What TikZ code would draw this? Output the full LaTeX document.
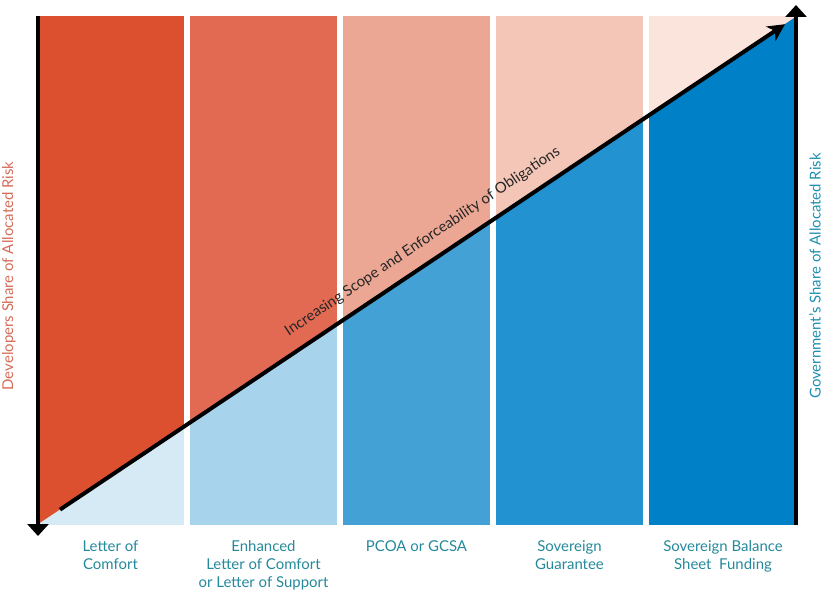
\documentclass[tikz,border=0pt]{standalone}
\usepackage{fontspec}
\setmainfont{Lato}
\usetikzlibrary{arrows.meta}
\definecolor{rA}{RGB}{221,80,47}
\definecolor{rB}{RGB}{227,106,82}
\definecolor{rC}{RGB}{236,167,148}
\definecolor{rD}{RGB}{244,198,183}
\definecolor{rE}{RGB}{250,228,220}
\definecolor{bA}{RGB}{214,234,246}
\definecolor{bB}{RGB}{168,211,236}
\definecolor{bC}{RGB}{68,161,214}
\definecolor{bD}{RGB}{34,146,208}
\definecolor{bE}{RGB}{0,128,198}
\definecolor{tealtxt}{RGB}{36,137,155}
\definecolor{bluetxt}{RGB}{30,143,176}
\definecolor{redtxt}{RGB}{212,108,88}
\tikzset{
  lbl/.style={inner sep=0pt, align=center, anchor=north, text=tealtxt,
    font=\fontsize{15}{18}\selectfont},
  sidelbl/.style={inner sep=0pt, rotate=90, font=\fontsize{15}{17}\selectfont},
  bigarrow/.style={line width=4bp, draw=black, -{Triangle[width=21bp,length=12bp]}},
  diagarrow/.style={line width=4bp, draw=black, -{Stealth[width=17bp,length=17bp,inset=5bp]}}
}
\begin{document}
\begin{tikzpicture}[x=1bp,y=-1bp]
\useasboundingbox (0,0) rectangle (826,592);
% red columns
\fill[rA] (37,16) rectangle (184,525);
\fill[rB] (190,16) rectangle (337,525);
\fill[rC] (343,16) rectangle (490,525);
\fill[rD] (496,16) rectangle (643,525);
\fill[rE] (649,16) rectangle (797,525);
% blue parts below the diagonal
\begin{scope}
\clip (37,525) -- (797,16) -- (797,525) -- cycle;
\fill[bA] (37,16) rectangle (184,525);
\fill[bB] (190,16) rectangle (337,525);
\fill[bC] (343,16) rectangle (490,525);
\fill[bD] (496,16) rectangle (643,525);
\fill[bE] (649,16) rectangle (797,525);
\end{scope}
% arrows
\coordinate (ltop) at (38,16);
\coordinate (lbot) at (38,536);
\coordinate (rbot) at (796,525);
\coordinate (rtop) at (796,5);
\coordinate (dstart) at (60,509.6);
\coordinate (dend) at (785,24.2);
\draw[bigarrow] (ltop) -- (lbot);
\draw[bigarrow] (rbot) -- (rtop);
\draw[diagarrow] (dstart) -- (dend);
% diagonal label
\node[inner sep=0pt, anchor=base, rotate=33.8, text=black!85,
  font=\fontsize{15}{17}\selectfont] (diaglbl) at (425,245)
  {Increasing Scope and Enforceability of Obligations};
% side labels
\node[sidelbl, text=redtxt] (leftlbl) at (9,276) {Developers Share of Allocated Risk};
\node[sidelbl, text=bluetxt] (rightlbl) at (815,276) {Government’s Share of Allocated Risk};
% bottom labels
\node[lbl] (l1) at (110.5,540) {Letter of\\Comfort};
\node[lbl] (l2) at (263.5,540) {Enhanced\\Letter of Comfort\\or Letter of Support};
\node[lbl] (l3) at (416.5,540) {PCOA or GCSA};
\node[lbl] (l4) at (569.5,540) {Sovereign\\Guarantee};
\node[lbl] (l5) at (723,540) {Sovereign Balance\\Sheet\ \ Funding};
\end{tikzpicture}
\end{document}
